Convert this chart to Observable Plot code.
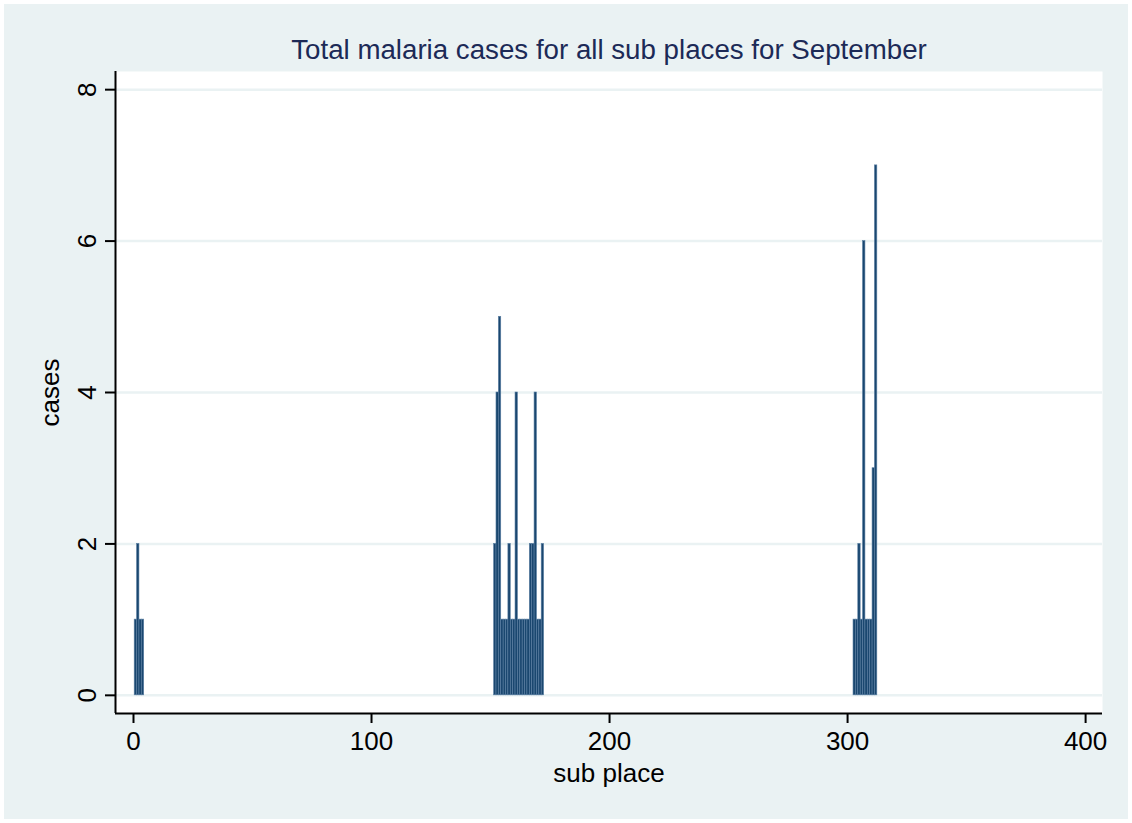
<!DOCTYPE html>
<html>
<head>
<meta charset="utf-8">
<script src="https://cdn.jsdelivr.net/npm/d3@7"></script>
<script src="https://cdn.jsdelivr.net/npm/@observablehq/plot@0.6"></script>
<style>
  html, body { margin: 0; padding: 0; background: #ffffff; }
  #wrap { position: absolute; left: 4px; top: 4px; width: 1124px; height: 815px; background: #eaf2f3; font-family: "Liberation Sans", Arial, sans-serif; }
  #title { position: relative; height: 60px; font-size: 27.7px; color: #1c2a57; }
  #title span { position: absolute; left: 605px; top: 46px; transform: translate(-50%, -50%); white-space: nowrap; line-height: 28px; }
</style>
</head>
<body>
<div id="wrap">
  <div id="title"><span>Total malaria cases for all sub places for September</span></div>
  <div id="chart"></div>
</div>
<script>
// Sub place IDs and total malaria cases (September)
const subPlace = [1, 2, 3, 4,
  152, 153, 154, 155, 156, 157, 158, 159, 160, 161, 162, 163, 164, 165, 166, 167, 168, 169, 170, 171, 172,
  303, 304, 305, 306, 307, 308, 309, 310, 311, 312];
const cases = [1, 2, 1, 1,
  2, 4, 5, 1, 1, 1, 2, 1, 1, 4, 1, 1, 1, 1, 1, 2, 2, 4, 1, 1, 2,
  1, 1, 2, 1, 6, 1, 1, 1, 3, 7];
const xTicks = [0, 100, 200, 300, 400];
const yTicks = [0, 2, 4, 6, 8];
const xLabel = "sub place";
const yLabel = "cases";

const data = subPlace.map((s, i) => ({sub: s, cases: cases[i]}));
const xDomain = [-7.56, 407.1];
const yDomain = [-0.24, 8.24];

const chart = Plot.plot({
  width: 1124,
  height: 755,
  marginTop: 7,
  marginBottom: 106,
  marginLeft: 111,
  marginRight: 26,
  style: {background: "transparent", fontFamily: "\"Liberation Sans\", Arial, sans-serif", fontSize: "26px", color: "#000"},
  x: {domain: xDomain},
  y: {domain: yDomain},
  marks: [
    Plot.frame({fill: "#ffffff", stroke: null}),
    Plot.ruleY(yTicks, {stroke: "#eaf2f3", strokeWidth: 2.5}),
    Plot.rect(data, {x1: d => d.sub - 0.5, x2: d => d.sub + 0.5, y1: 0, y2: "cases", fill: "#1a476f", stroke: "#5b7fa3", strokeWidth: 0.6}),
    Plot.ruleX([xDomain[0]], {stroke: "#000", strokeWidth: 2}),
    Plot.ruleY([yDomain[0]], {stroke: "#000", strokeWidth: 2}),
    Plot.axisX({ticks: xTicks, tickSize: 10, tickPadding: 8, tickFormat: d => String(d), label: null, fontSize: 26, stroke: "#000", strokeWidth: 2}),
    Plot.axisY({ticks: yTicks, tickSize: 10, tickPadding: 10, tickRotate: -90, tickFormat: d => String(d), label: null, fontSize: 26, stroke: "#000", strokeWidth: 2}),
    Plot.text([xLabel], {frameAnchor: "bottom", dy: 60, text: d => d, fontSize: 26, textAnchor: "middle", lineAnchor: "middle"}),
    Plot.text([yLabel], {frameAnchor: "left", dx: -65, text: d => d, fontSize: 26, rotate: -90, textAnchor: "middle", lineAnchor: "middle"})
  ]
});
document.getElementById("chart").appendChild(chart);
</script>
</body>
</html>
